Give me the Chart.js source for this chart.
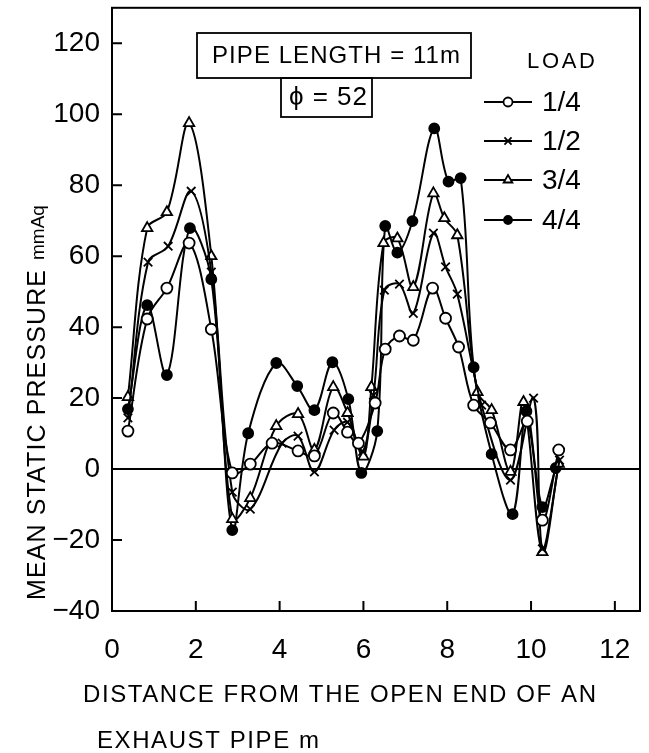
<!DOCTYPE html>
<html>
<head>
<meta charset="utf-8">
<script src="https://cdn.jsdelivr.net/npm/chart.js@4.4.1/dist/chart.umd.min.js"></script>
<style>
  html, body { margin: 0; padding: 0; background: #fff; }
  #wrap { width: 649px; height: 753px; }
</style>
</head>
<body>
<div id="wrap"><canvas id="pressureChart" width="649" height="753"></canvas></div>
<script>
// axis ticks
const xTicks = [0, 2, 4, 6, 8, 10, 12];
const yTicks = [-40, -20, 0, 20, 40, 60, 80, 100, 120];

// LOAD 1/4 (open circles)
const load14X = [0.38, 0.84, 1.31, 1.84, 2.37, 2.87, 3.30, 3.82, 4.44, 4.83, 5.28, 5.62, 5.88, 6.28, 6.52, 6.86, 7.19, 7.65, 7.96, 8.27, 8.63, 9.03, 9.51, 9.91, 10.27, 10.66];
const load14Y = [10.7, 42.3, 51, 63.7, 39.4, -1.1, 1.4, 7.3, 5.1, 3.7, 15.8, 10.4, 7.3, 18.6, 33.8, 37.5, 36.3, 51, 42.5, 34.4, 18, 13, 5.4, 13.5, -14.4, 5.4];

// LOAD 1/2 (crosses)
const load12X = [0.38, 0.86, 1.34, 1.89, 2.37, 2.87, 3.30, 4.06, 4.44, 4.83, 5.30, 5.62, 5.98, 6.24, 6.50, 6.86, 7.19, 7.67, 7.96, 8.24, 8.82, 9.51, 10.06, 10.27, 10.68];
const load12Y = [14.4, 58.3, 62.8, 78.3, 55.5, -6.5, -11.3, 7.3, 9.3, -0.8, 11, 13.2, 5, 20.8, 50.4, 52.1, 43.9, 66.5, 57, 49.3, 18, -3.1, 20, -22.5, 2.5];

// LOAD 3/4 (open triangles)
const load34X = [0.38, 0.84, 1.31, 1.84, 2.37, 2.87, 3.30, 3.92, 4.44, 4.83, 5.28, 5.62, 6.00, 6.19, 6.48, 6.81, 7.19, 7.67, 7.93, 8.24, 8.72, 9.06, 9.51, 9.82, 10.27, 10.66];
const load34Y = [20.3, 67.9, 72.4, 97.5, 60, -14.1, -8.2, 12.1, 15.5, 5.4, 23.1, 15.8, 3.5, 23.1, 63.7, 65, 51.3, 77.7, 70.7, 65.9, 21.7, 16.6, -0.8, 18.9, -23.4, 1.5];

// LOAD 4/4 (filled circles)
const load44X = [0.38, 0.84, 1.31, 1.86, 2.37, 2.87, 3.25, 3.92, 4.42, 4.83, 5.26, 5.64, 5.95, 6.33, 6.52, 6.81, 7.17, 7.69, 8.03, 8.32, 8.63, 9.06, 9.56, 9.89, 10.27, 10.59];
const load44Y = [16.9, 46.2, 26.5, 67.9, 53.5, -17.2, 10.1, 29.9, 23.4, 16.6, 30.1, 19.7, -1.1, 10.7, 68.5, 61, 69.9, 96, 81, 82, 28.7, 4.2, -12.7, 16.3, -10.7, 0.3];

const FONT = "'Liberation Sans', Arial, sans-serif";

function toPoints(xs, ys) {
  return xs.map((x, i) => ({ x: x, y: ys[i] }));
}

function series(label, xs, ys, style, radius, fill) {
  return {
    label: label,
    data: toPoints(xs, ys),
    borderColor: '#000',
    borderWidth: 2,
    tension: 0.35,
    pointStyle: style,
    pointRadius: radius,
    pointBorderWidth: 1.8,
    pointBorderColor: '#000',
    pointBackgroundColor: fill,
    fill: false
  };
}

// draw text stretched to a given width with letter spacing
function spacedText(ctx, text, x, y, width) {
  const plain = ctx.measureText(text).width;
  const gap = Math.max(0, (width - plain) / Math.max(1, text.length - 1));
  if ('letterSpacing' in ctx) {
    ctx.letterSpacing = gap + 'px';
    ctx.fillText(text, x, y);
    ctx.letterSpacing = '0px';
  } else {
    let cx = x;
    for (const ch of text) {
      ctx.fillText(ch, cx, y);
      cx += ctx.measureText(ch).width + gap;
    }
  }
}

const decor = {
  id: 'decor',
  afterDraw(chart) {
    const ctx = chart.ctx;
    const a = chart.chartArea;
    const sx = chart.scales.x, sy = chart.scales.y;
    ctx.save();
    ctx.strokeStyle = '#000';
    ctx.fillStyle = '#000';
    ctx.lineWidth = 2;

    // frame
    ctx.strokeRect(a.left, a.top, a.right - a.left, a.bottom - a.top);

    // inward tick marks
    ctx.beginPath();
    yTicks.forEach(v => {
      if (v === -40) return;
      const py = sy.getPixelForValue(v);
      ctx.moveTo(a.left, py); ctx.lineTo(a.left + 10, py);
    });
    xTicks.forEach(v => {
      if (v === 0) return;
      const px = sx.getPixelForValue(v);
      ctx.moveTo(px, a.bottom); ctx.lineTo(px, a.bottom - 10);
    });
    ctx.stroke();

    // annotation boxes
    ctx.lineWidth = 1.8;
    ctx.strokeRect(197, 33, 274, 45);
    ctx.strokeRect(281, 78, 91, 39);
    ctx.textBaseline = 'middle';
    ctx.textAlign = 'left';
    ctx.font = '24px ' + FONT;
    spacedText(ctx, 'PIPE LENGTH = 11m', 212, 56, 248);
    ctx.font = '26px ' + FONT;
    spacedText(ctx, 'ϕ = 52', 289, 98, 78);

    // legend
    ctx.font = '22px ' + FONT;
    spacedText(ctx, 'LOAD', 527, 62, 68);
    const rows = [102, 141, 180, 220];
    ctx.font = '28px ' + FONT;
    chart.data.datasets.forEach((ds, i) => {
      const y = rows[i];
      ctx.lineWidth = 2;
      ctx.beginPath();
      ctx.moveTo(484, y); ctx.lineTo(532, y);
      ctx.stroke();
      ctx.fillStyle = ds.pointBackgroundColor;
      ctx.lineWidth = 1.8;
      Chart.helpers.drawPoint(ctx, {
        pointStyle: ds.pointStyle,
        radius: ds.pointRadius - 1,
        rotation: 0,
        borderWidth: 1.8
      }, 508, y);
      ctx.fillStyle = '#000';
      ctx.fillText(ds.label, 542, y + 1);
    });

    // y axis title
    ctx.save();
    ctx.translate(38, 600);
    ctx.rotate(-Math.PI / 2);
    ctx.font = '25px ' + FONT;
    spacedText(ctx, 'MEAN STATIC PRESSURE', 0, 0, 330);
    ctx.font = '19px ' + FONT;
    spacedText(ctx, 'mmAq', 340, 1, 52);
    ctx.restore();

    // x axis title
    ctx.font = '24px ' + FONT;
    spacedText(ctx, 'DISTANCE FROM THE OPEN END OF AN', 83, 695, 513);
    spacedText(ctx, 'EXHAUST PIPE m', 97, 741, 222);
    ctx.restore();
  }
};

new Chart(document.getElementById('pressureChart'), {
  type: 'line',
  data: {
    datasets: [
      series('1/4', load14X, load14Y, 'circle', 5.5, '#fff'),
      series('1/2', load12X, load12Y, 'crossRot', 6, '#000'),
      series('3/4', load34X, load34Y, 'triangle', 6, '#fff'),
      series('4/4', load44X, load44Y, 'circle', 5, '#000')
    ]
  },
  options: {
    responsive: false,
    devicePixelRatio: 1,
    animation: false,
    layout: { padding: { top: 5, right: 9, left: 0, bottom: 0 } },
    plugins: {
      legend: { display: false },
      tooltip: { enabled: false }
    },
    scales: {
      x: {
        type: 'linear',
        min: 0,
        max: 12.6,
        afterBuildTicks: s => { s.ticks = xTicks.map(v => ({ value: v })); },
        afterFit: s => { s.height = 142; s.paddingLeft = 0; s.paddingRight = 0; },
        grid: { display: false },
        border: { display: false },
        ticks: {
          color: '#000',
          padding: 14,
          maxRotation: 0,
          font: { family: FONT, size: 28 }
        }
      },
      y: {
        min: -40,
        max: 130,
        afterBuildTicks: s => { s.ticks = yTicks.map(v => ({ value: v })); },
        afterFit: s => { s.width = 112; s.paddingTop = 0; s.paddingBottom = 0; },
        grid: {
          drawTicks: false,
          lineWidth: 2,
          color: c => (c.tick && c.tick.value === 0 ? '#000' : 'rgba(0,0,0,0)')
        },
        border: { display: false },
        ticks: {
          color: '#000',
          padding: 12,
          font: { family: FONT, size: 28 },
          callback: v => (v < 0 ? '−' + Math.abs(v) : String(v))
        }
      }
    }
  },
  plugins: [decor]
});
</script>
</body>
</html>
